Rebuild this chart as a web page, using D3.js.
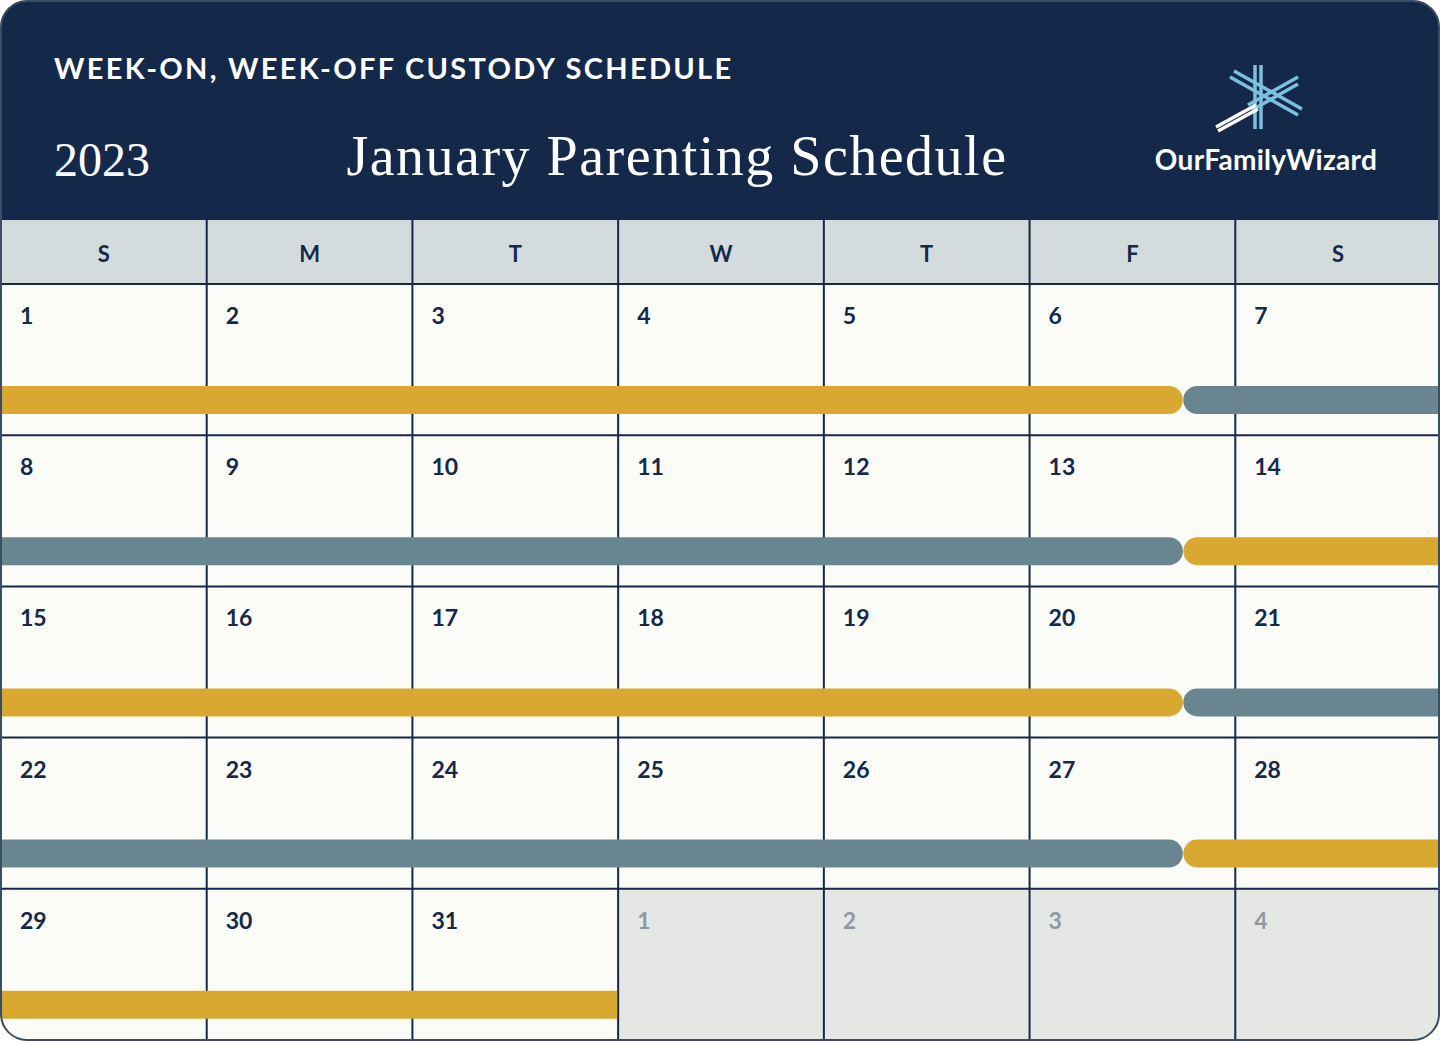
<!DOCTYPE html>
<html><head><meta charset="utf-8">
<script src="https://cdn.jsdelivr.net/npm/d3@7/dist/d3.min.js"></script>
<style>body{margin:0;background:#fff}svg{display:block}</style></head>
<body><svg id="c" width="1440" height="1041"></svg>
<script>
const title = "WEEK-ON, WEEK-OFF CUSTODY SCHEDULE";
const year = "2023";
const subtitle = "January Parenting Schedule";
const weekdays = ["S","M","T","W","T","F","S"];
const dayNumbers = [1,2,3,4,5,6,7,8,9,10,11,12,13,14,15,16,17,18,19,20,21,22,23,24,25,26,27,28,29,30,31,1,2,3,4];
const inMonth = dayNumbers.map((d,i)=>i<31);
// custody segments: week row, start col, end col, parent
const segWeek   = [0,0,1,1,2,2,3,3,4];
const segStart  = [0,6,0,6,0,6,0,6,0];
const segEnd    = [5.75,7,5.75,7,5.75,7,5.75,7,3];
const segParent = ["A","B","B","A","A","B","B","A","A"];
const colors = {A:"#d8a830", B:"#688590"};

const svg = d3.select("#c");
const W=1440,H=1041,R=26;
const navy="#14294a";
svg.append("clipPath").attr("id","clip").append("rect").attr("x",1).attr("y",1).attr("width",W-2).attr("height",H-2).attr("rx",R);
const g = svg.append("g").attr("clip-path","url(#clip)");
g.append("rect").attr("width",W).attr("height",H).attr("fill","#fbfbf8");
g.append("rect").attr("width",W).attr("height",220).attr("fill",navy);
g.append("text").attr("x",54).attr("y",79).text(title).attr("fill","#fff")
 .attr("font-family","Lato, 'Open Sans', sans-serif").attr("font-weight",700).attr("font-size",29).attr("letter-spacing",2.3);
g.append("text").attr("x",54).attr("y",176).text(year).attr("fill","#fff")
 .attr("font-family","'Liberation Serif', serif").attr("font-size",48);
g.append("text").attr("x",677).attr("y",175).attr("text-anchor","middle").text(subtitle).attr("fill","#fff")
 .attr("font-family","'Liberation Serif', serif").attr("font-size",56).attr("letter-spacing",1.5);
// logo
const lg=g.append("g").attr("transform","translate(1258,97)");
const lb="#7cc0e0";
[[-3,-32,-3,32],[3,-32,3,32]].forEach(l=>lg.append("line").attr("x1",l[0]).attr("y1",l[1]).attr("x2",l[2]).attr("y2",l[3]).attr("stroke",lb).attr("stroke-width",3.5));
[[-28,-20,40,18],[-24,-26,44,12],[40,-20,-10,8],[40,-13,-6,13]].forEach(l=>lg.append("line").attr("x1",l[0]).attr("y1",l[1]).attr("x2",l[2]).attr("y2",l[3]).attr("stroke",lb).attr("stroke-width",3.5));
[[-42,30,-2,8],[-40,34,0,12]].forEach(l=>lg.append("line").attr("x1",l[0]).attr("y1",l[1]).attr("x2",l[2]).attr("y2",l[3]).attr("stroke","#fff").attr("stroke-width",3.5));
g.append("text").attr("x",1266).attr("y",170).attr("text-anchor","middle").text("OurFamilyWizard").attr("fill","#fff")
 .attr("font-family","Lato, sans-serif").attr("font-weight",700).attr("font-size",28).attr("letter-spacing",0.3);

const x = d3.scaleBand().domain(d3.range(7)).range([0,W]).padding(0);
const y = d3.scaleLinear().domain([0,5]).range([284,1040]);
g.append("rect").attr("x",0).attr("y",220).attr("width",W).attr("height",64).attr("fill","#d3dbdd");
g.selectAll(".wd").data(weekdays).join("text").attr("x",(d,i)=>x(i)+x.bandwidth()/2+1).attr("y",262)
 .attr("text-anchor","middle").text(d=>d).attr("fill",navy).attr("font-family","Lato, sans-serif").attr("font-weight",700).attr("font-size",22);
const cells = dayNumbers.map((d,i)=>({d,i,c:i%7,r:Math.floor(i/7),m:inMonth[i]}));
g.selectAll(".cell").data(cells.filter(c=>!c.m)).join("rect").attr("x",c=>x(c.c)).attr("y",c=>y(c.r)).attr("width",x.bandwidth()).attr("height",y(1)-y(0)+2).attr("fill","#e5e7e5");
g.selectAll(".dn").data(cells).join("text").attr("x",c=>x(c.c)+20).attr("y",c=>y(c.r)+40).text(c=>c.d)
 .attr("fill",c=>c.m?navy:"#8d9aa3").attr("font-family","Lato, sans-serif").attr("font-weight",700).attr("font-size",23);
const gl = g.append("g").attr("stroke",navy).attr("stroke-width",2);
d3.range(1,7).forEach(i=>gl.append("line").attr("x1",x(i)+1).attr("x2",x(i)+1).attr("y1",220).attr("y2",H));
d3.range(0,5).forEach(i=>gl.append("line").attr("x1",0).attr("x2",W).attr("y1",y(i)).attr("y2",y(i)));
const segs = segWeek.map((w,i)=>({w,s:segStart[i],e:segEnd[i],p:segParent[i]}));
const bx = v=>v*x.bandwidth();
g.selectAll(".bar").data(segs).join("path").attr("fill",d=>colors[d.p]).attr("d",d=>{
  const top=y(d.w)+102,h=28,r=14;
  let x0=bx(d.s),x1=bx(d.e);
  const rs = d.s>0, re = d.e<7 && d.e!==3;
  if(rs) x0+=-51;
  const p=d3.path();
  if(rs){p.moveTo(x0+r,top);} else p.moveTo(x0,top);
  if(re){p.lineTo(x1-r,top);p.arc(x1-r,top+r,r,-Math.PI/2,Math.PI/2);} else {p.lineTo(x1,top);p.lineTo(x1,top+h);}
  if(rs){p.lineTo(x0+r,top+h);p.arc(x0+r,top+r,r,Math.PI/2,3*Math.PI/2);} else {p.lineTo(x0,top+h);}
  p.closePath();return p.toString();
});
svg.append("rect").attr("x",1).attr("y",1).attr("width",W-2).attr("height",H-2).attr("rx",R).attr("fill","none").attr("stroke","#3a4d66").attr("stroke-width",2);
</script></body></html>
